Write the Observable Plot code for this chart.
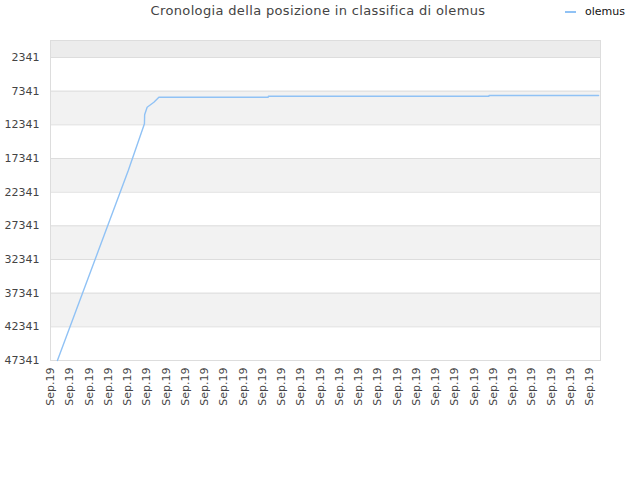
<!DOCTYPE html>
<html>
<head>
<meta charset="utf-8">
<script src="https://cdn.jsdelivr.net/npm/d3@7"></script>
<script src="https://cdn.jsdelivr.net/npm/@observablehq/plot@0.6"></script>
<style>
  html, body { margin: 0; padding: 0; background: #fff; }
  #wrap { position: relative; width: 640px; height: 480px; font-family: "DejaVu Sans", sans-serif; }
  #title { position: absolute; left: 0; width: 636px; top: 3px; text-align: center; font-size: 13px; color: #444; letter-spacing: 0.35px; }
  #legend { position: absolute; left: 565px; top: 5px; font-size: 11px; color: #111; display: flex; align-items: center; }
  #legend .sw { width: 11px; height: 2px; background: #90c2f5; margin-right: 9px; }
  #chart { position: absolute; left: 0; top: 0; }
</style>
</head>
<body>
<div id="wrap">
  <div id="chart"></div>
  <div id="title">Cronologia della posizione in classifica di olemus</div>
  <div id="legend"><span class="sw"></span><span>olemus</span></div>
</div>
<script>
// x in tick units (one tick per "Sep.19" label), y = ranking position
const seriesName = "olemus";
const xs =    [0.36,  4.04,  4.88,  4.89,  5.02, 5.37, 5.63, 11.31, 11.32, 22.77, 22.78, 28.47];
const ranks = [47341, 19121, 12187, 10850, 9722, 8979, 8236, 8236,  8087,  8087,  7984,  7984];
const yTicks = [2341, 7341, 12341, 17341, 22341, 27341, 32341, 37341, 42341, 47341];
const xTicks = d3.range(0, 29);
const xTickLabel = "Sep.19";
const yTop = -184;

const data = xs.map((x, i) => ({x, rank: ranks[i]}));
// alternating bands between ticks
const bands = [{y1: yTop, y2: yTicks[0], fill: "#ececec"}];
for (let i = 0; i < yTicks.length - 1; i++) {
  bands.push({y1: yTicks[i], y2: yTicks[i + 1], fill: i % 2 === 1 ? "#f2f2f2" : "#ffffff"});
}

const chart = Plot.plot({
  width: 640,
  height: 480,
  marginLeft: 50,
  marginRight: 40,
  marginTop: 40,
  marginBottom: 120,
  style: {fontFamily: "DejaVu Sans, sans-serif", fontSize: "11px", color: "#444", background: "transparent"},
  x: {domain: [0, 28.57], axis: null},
  y: {domain: [47341, yTop], range: [360, 40], axis: null},
  marks: [
    Plot.rectY(bands, {x1: 0, x2: 28.57, y1: "y1", y2: "y2", fill: "fill"}),
    Plot.ruleY(yTicks, {stroke: "#dddddd", strokeWidth: 1}),
    Plot.frame({stroke: "#dddddd"}),
    Plot.axisY(yTicks, {tickSize: 0, tickPadding: 11, tickFormat: d => String(d), fill: "#444", fontSize: 11, label: null}),
    Plot.axisX(xTicks, {tickSize: 0, tickPadding: 7, tickRotate: -90, tickFormat: () => xTickLabel, fill: "#444", fontSize: 11, label: null}),
    Plot.line(data, {x: "x", y: "rank", stroke: "#90c2f5", strokeWidth: 1.4})
  ]
});
document.getElementById("chart").appendChild(chart);
</script>
</body>
</html>
